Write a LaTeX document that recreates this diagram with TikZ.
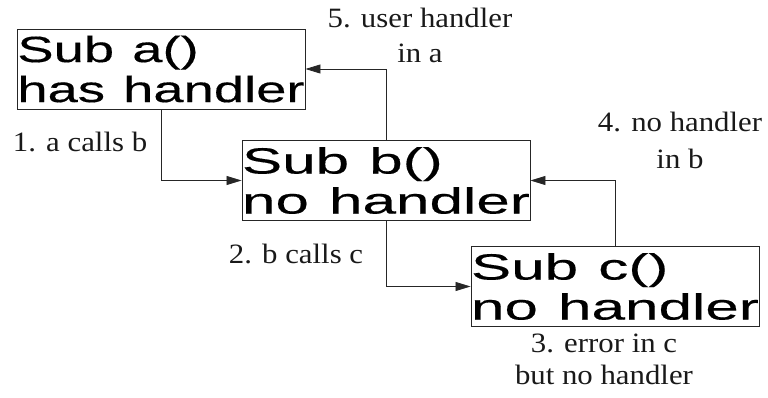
\documentclass[tikz,border=0pt]{standalone}
\usepackage{fontspec}
\usetikzlibrary{arrows.meta}
\newfontfamily\boxfont[FakeStretch=1.49,WordSpace=1.2,FakeBold=0.4]{Liberation Sans}
\newfontfamily\boxfontw[FakeStretch=1.65,WordSpace=1.2,FakeBold=0.4]{Liberation Sans}
\newfontfamily\lblfont[FakeStretch=1.1]{Liberation Serif}
\begin{document}
\begin{tikzpicture}[x=1pt,y=-1pt,
  subbox/.style={draw=black!85, line width=0.9pt, inner sep=0pt, minimum width=288pt, minimum height=80pt,
     align=left, font=\boxfont\fontsize{36.5}{40}\selectfont},
  widebox/.style={subbox, font=\boxfontw\fontsize{36.5}{40}\selectfont},
  lbl/.style={inner sep=0pt, align=center, font=\lblfont\fontsize{28}{35}\selectfont, text=black!90},
  conn/.style={draw=black!85, line width=0.8pt, -{Triangle[length=15pt,width=9pt]}}]
\useasboundingbox (0,0) rectangle (768,398);
\node[subbox] (a) at (161,69) {Sub a()\\has handler};
\node[widebox] (b) at (386,180.5) {Sub b()\\no handler};
\node[widebox] (c) at (615,286.5) {Sub c()\\no handler};
\node[lbl, anchor=base] (l1) at (80,152) {1. a calls b};
\node[lbl, anchor=base] (l2) at (296,263) {2. b calls c};
\node[lbl, font=\lblfont\fontsize{28}{32}\selectfont] (l3) at (604,359) {3. error in c\\but no handler};
\node[lbl, font=\lblfont\fontsize{28}{37}\selectfont] (l4) at (680,140) {4. no handler\\in b};
\node[lbl] (l5) at (420,35) {5. user handler\\in a};
\draw[conn] (a.south) |- (b.west);
\draw[conn] (b.south) |- (c.west);
\draw[conn] (c.north) |- (b.east);
\draw[conn] (b.north) |- (a.east);
\end{tikzpicture}
\end{document}
